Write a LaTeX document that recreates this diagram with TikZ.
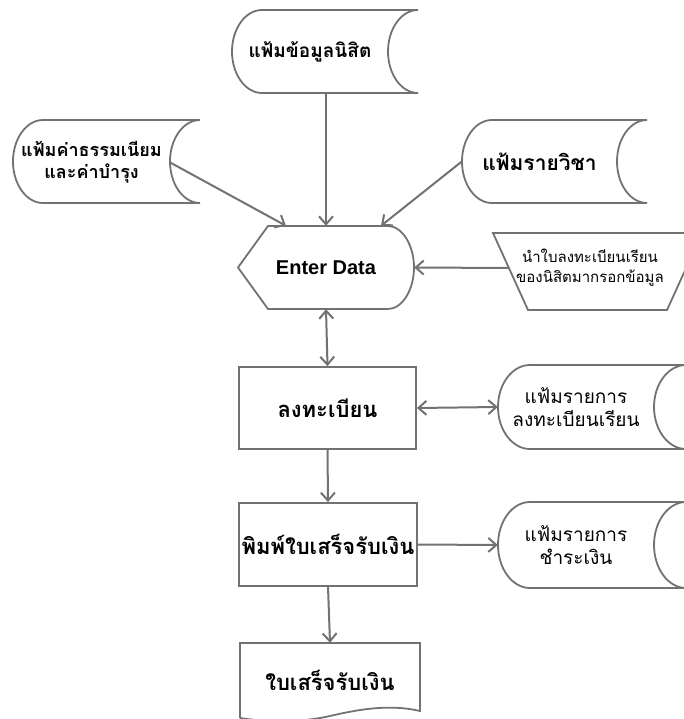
\documentclass[tikz,border=0pt]{standalone}
\usepackage{fontspec}
\newfontfamily\thai[Script=Thai]{Loma}
\newfontfamily\lsans{Liberation Sans}
\usetikzlibrary{arrows.meta}
\definecolor{ln}{HTML}{727272}
\tikzset{
  shp/.style={draw=ln, line width=1.8pt, fill=white},
  conn/.style={draw=ln, line width=2pt, -{Straight Barb[length=8pt,width=14pt]}},
  dconn/.style={draw=ln, line width=2pt, {Straight Barb[length=8pt,width=14pt]}-{Straight Barb[length=8pt,width=14pt]}},
  hold/.style={inner sep=0pt, align=center, draw=none},
  boldlbl/.style={hold, font=\thai\bfseries\fontsize{19}{22}\selectfont},
  reglbl/.style={hold, font=\thai\fontsize{19}{23}\selectfont},
  smalllbl/.style={hold, font=\thai\fontsize{15}{20}\selectfont},
  procbox/.style={shp, inner sep=0pt, align=center, font=\thai\bfseries\fontsize{22}{26}\selectfont}
}
% stored data outline: x0, top, x1, bottom, depth
\newcommand\storedshape[5]{%
  \draw[shp] ({#1+#5},#2) -- (#3,#2)
    .. controls ({#3-0.552*#5},#2) and ({#3-#5},{(#2+#4)/2-0.276*(#4-#2)}) .. ({#3-#5},{(#2+#4)/2})
    .. controls ({#3-#5},{(#2+#4)/2+0.276*(#4-#2)}) and ({#3-0.552*#5},#4) .. (#3,#4)
    -- ({#1+#5},#4)
    .. controls ({#1+0.448*#5},#4) and (#1,{(#2+#4)/2+0.276*(#4-#2)}) .. (#1,{(#2+#4)/2})
    .. controls (#1,{(#2+#4)/2-0.276*(#4-#2)}) and ({#1+0.448*#5},#2) .. cycle;
}
\begin{document}
\begin{tikzpicture}[x=1pt,y=-1pt]
\useasboundingbox (0,0) rectangle (684,719);
\clip (0,0) rectangle (684,719);
\fill[white] (0,0) rectangle (684,719);

% shapes
\storedshape{232}{10}{418}{93}{30}
\storedshape{13}{120}{200}{203}{30}
\storedshape{462}{120}{647}{203}{30}
\storedshape{498}{365}{686}{449}{32}
\storedshape{498}{502}{686}{588}{32}

% Enter Data (display)
\draw[shp] (238,267.5) -- (268,226) -- (388,226)
  .. controls (402,226) and (414,245) .. (414,267.5)
  .. controls (414,290) and (402,309) .. (388,309)
  -- (268,309) -- cycle;

% manual input
\draw[shp] (493,233) -- (702,233) -- (667,310) -- (528,310) -- cycle;

% document
\draw[shp] (240,718) -- (240,643) -- (420,643) -- (420,711)
  .. controls (390,704) and (360,709) .. (330,716)
  .. controls (300,723) and (265,722) .. (240,718);

% labels / named nodes
\node[boldlbl, minimum width=156, minimum height=83] (f1) at (310,51.5) {แฟ้มข้อมูลนิสิต};
\node[boldlbl, font=\thai\bfseries\fontsize{18}{22}\selectfont, minimum width=157, minimum height=83] (f2) at (91.5,162.5) {แฟ้มค่าธรรมเนียม\\และค่าบำรุง};
\node[boldlbl, font=\thai\bfseries\fontsize{21}{24}\selectfont, minimum width=155, minimum height=83] (f3) at (539.5,161.5) {แฟ้มรายวิชา};
\node[hold, font=\lsans\bfseries\fontsize{20}{24}\selectfont, minimum width=176, minimum height=83] (ed) at (326,267.5) {Enter Data};
\node[smalllbl, minimum width=162, minimum height=70] (mi) at (590,268) {นำใบลงทะเบียนเรียน\\ของนิสิตมากรอกข้อมูล};
\node[procbox, minimum width=177, minimum height=82] (p1) at (327.5,408) {ลงทะเบียน};
\node[reglbl, minimum width=156, minimum height=84] (r1) at (576,407) {แฟ้มรายการ\\ลงทะเบียนเรียน};
\node[procbox, minimum width=178, minimum height=83] (p2) at (328,544.5) {พิมพ์ใบเสร็จรับเงิน};
\node[reglbl, minimum width=156, minimum height=86] (r2) at (576,545) {แฟ้มรายการ\\ชำระเงิน};
\node[boldlbl, font=\thai\bfseries\fontsize{22}{26}\selectfont, minimum width=180, minimum height=75] (doc) at (330,680.5) {ใบเสร็จรับเงิน};

% connectors
\draw[conn] (f1.south -| ed.north) -- (ed.north);
\draw[conn] (f2.east) -- ([xshift=-40]ed.north);
\draw[conn] (f3.west) -- ([xshift=55]ed.north);
\draw[conn] (mi.west) -- (ed.east);
\draw[dconn] (ed.south) -- (p1.north);
\draw[dconn] (p1.east) -- (r1.west);
\draw[conn] (p1.south) -- (p2.north);
\draw[conn] (p2.east) -- (r2.west);
\draw[conn] (p2.south) -- (doc.north);
\end{tikzpicture}
\end{document}
